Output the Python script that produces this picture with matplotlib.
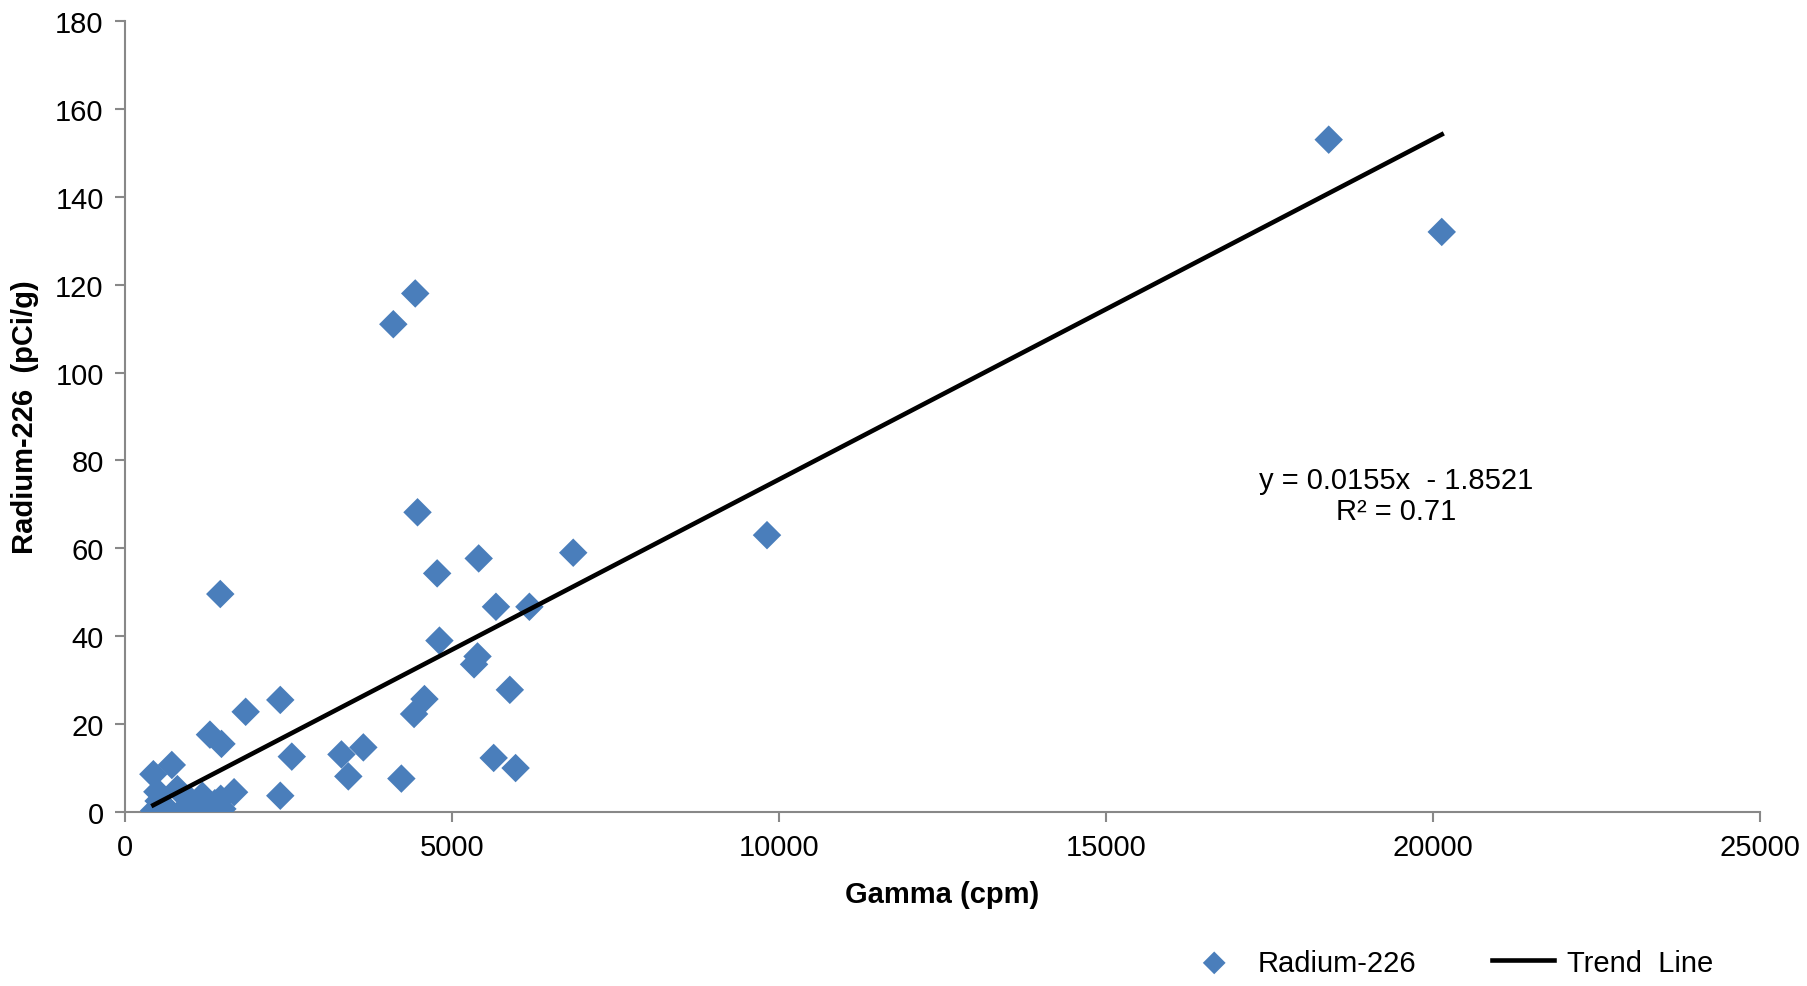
import matplotlib.pyplot as plt
import numpy as np

# Gamma (cpm) vs Radium-226 (pCi/g)
gamma = [18406, 20134, 9820, 6858, 5413, 4778, 5677, 6188, 4813, 5395,
         5342, 5889, 4584, 4425, 2380, 1851, 1463, 4108, 4443, 4478,
         2556, 3315, 3650, 3420, 4231, 5642, 5977, 2380, 1305, 1481,
         722, 440, 501, 807, 1012, 1189, 1470, 1674, 1495, 451,
         654, 859, 1215, 520, 600, 950, 1100, 1380]
radium = [153, 132, 63, 59, 57.7, 54.3, 46.7, 46.7, 39, 35.4,
          33.6, 27.8, 25.7, 22.3, 25.5, 22.8, 49.6, 111, 118, 68.2,
          12.6, 13.1, 14.7, 8.1, 7.6, 12.3, 10, 3.7, 17.6, 15.5,
          10.7, 8.6, 4.6, 5.2, 2.6, 3.7, 3.0, 4.5, 0.7, 0.3,
          0.7, 0.0, 1.4, 2.5, 0.2, 1.0, 0.5, 2.0]

# trend line as drawn on the chart
trend_slope = 0.00775
trend_intercept = -1.85
eq_text = "y = 0.0155x  - 1.8521\nR² = 0.71"

plt.rcParams['font.family'] = ['Liberation Sans', 'DejaVu Sans']

fig = plt.figure(figsize=(18.08, 9.87), dpi=100)
ax = fig.add_axes([0.0689, 0.1763, 0.9046, 0.8014])

ax.scatter(gamma, radium, marker='D', s=14.5**2, color='#4A7EBB',
           edgecolors='none', zorder=3, label='Radium-226')

tx = np.array([min(gamma), max(gamma)])
ax.plot(tx, trend_slope * tx + trend_intercept, color='black', lw=3.3,
        zorder=4, label='Trend  Line')

ax.text(19430, 72, eq_text, ha='center', va='center', fontsize=21,
        linespacing=1.1)

ax.set_xlim(0, 25000)
ax.set_ylim(0, 180)
ax.set_xticks(np.arange(0, 25001, 5000))
ax.set_yticks(np.arange(0, 181, 20))
ax.tick_params(direction='out', length=7, width=1.5, color='#888888',
               labelsize=21, pad=8)
for s in ['top', 'right']:
    ax.spines[s].set_visible(False)
for s in ['left', 'bottom']:
    ax.spines[s].set_color('#888888')
    ax.spines[s].set_linewidth(1.5)

ax.set_xlabel('Gamma (cpm)', fontsize=21, fontweight='bold', labelpad=14)
ax.set_ylabel('Radium-226  (pCi/g)', fontsize=21, fontweight='bold', labelpad=12)

fig.legend(loc='lower right', bbox_to_anchor=(0.962, -0.017), ncol=2,
           frameon=False, fontsize=21, handlelength=2.1, columnspacing=2.6,
           markerscale=0.8, handletextpad=0.45)

plt.savefig('out.png', dpi=100)
